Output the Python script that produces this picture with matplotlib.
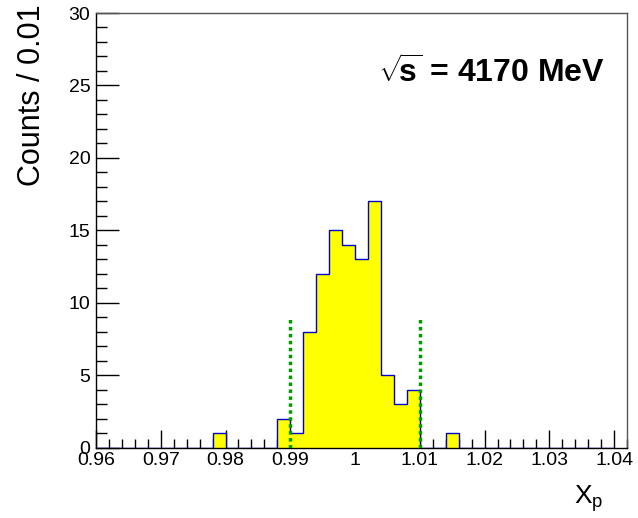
import numpy as np
import matplotlib
matplotlib.use("Agg")
import matplotlib.pyplot as plt
from matplotlib.ticker import MultipleLocator, FixedFormatter, FixedLocator

# ── Données ──────────────────────────────────────────────
bin_lo    = 0.96
bin_width = 0.002
counts = [0, 0, 0, 0, 0, 0, 0, 0, 0, 1,
          0, 0, 0, 0, 2, 1, 8, 12, 15, 14,
          13, 17, 5, 3, 4, 0, 0, 1, 0, 0,
          0, 0, 0, 0, 0, 0, 0, 0, 0, 0]
cut_x      = [0.99, 1.01]
cut_height = 9
x_ticks    = [0.96, 0.97, 0.98, 0.99, 1.00, 1.01, 1.02, 1.03, 1.04]
x_labels   = ["0.96", "0.97", "0.98", "0.99", "1", "1.01", "1.02", "1.03", "1.04"]
y_ticks    = [0, 5, 10, 15, 20, 25, 30]

edges = bin_lo + bin_width * np.arange(len(counts) + 1)

plt.rcParams["font.family"] = ["Liberation Sans", "DejaVu Sans"]
plt.rcParams["mathtext.fontset"] = "custom"
plt.rcParams["mathtext.rm"] = "Liberation Sans"
plt.rcParams["mathtext.bf"] = "Liberation Sans:bold"

fig = plt.figure(figsize=(6.38, 5.18), dpi=100)
ax = fig.add_axes([0.1505, 0.1357, 0.8328, 0.8392])

# histogramme
ax.stairs(counts, edges, fill=True, color="#ffff00", zorder=2)
ax.stairs(counts, edges, color="#0000cc", linewidth=1.0, zorder=3)

# lignes de coupure
for xc in cut_x:
    ax.plot([xc, xc], [0, cut_height], color="#009900", linestyle=(0, (1, 1)),
            linewidth=2.5, zorder=4)

ax.set_xlim(0.96, 1.04205)
ax.set_ylim(0, 30)

ax.xaxis.set_major_locator(FixedLocator(x_ticks))
ax.xaxis.set_major_formatter(FixedFormatter(x_labels))
ax.xaxis.set_minor_locator(MultipleLocator(0.002))
ax.yaxis.set_major_locator(FixedLocator(y_ticks))
ax.yaxis.set_minor_locator(MultipleLocator(1))

ax.tick_params(axis="x", which="major", direction="in", length=13, width=1,
               labelsize=14, pad=3, top=False)
ax.tick_params(axis="x", which="minor", direction="in", length=6.5, width=1, top=False)
ax.tick_params(axis="y", which="major", direction="in", length=16.5, width=1,
               labelsize=14, pad=4, right=False)
ax.tick_params(axis="y", which="minor", direction="in", length=8, width=1, right=False)

for s in ["left", "bottom"]:
    ax.spines[s].set_color("black")
    ax.spines[s].set_linewidth(1)
for s in ["top", "right"]:
    ax.spines[s].set_color("#555555")
    ax.spines[s].set_linewidth(1)

# titres des axes
fig.text(32 / 638, 1 - 4 / 518, "Counts / 0.01", rotation=90, fontsize=22,
         ha="center", va="top")
fig.text(603 / 638, 1 - 504 / 518, r"X$_{\mathrm{p}}$", fontsize=19,
         ha="right", va="baseline")

# énergie
ax.text(0.958, 0.862, r"$\sqrt{\!\mathbf{s}}$ = 4170 MeV", transform=ax.transAxes,
        fontsize=23, fontweight="bold", ha="right", va="center")

fig.savefig("out.png", dpi=100)
